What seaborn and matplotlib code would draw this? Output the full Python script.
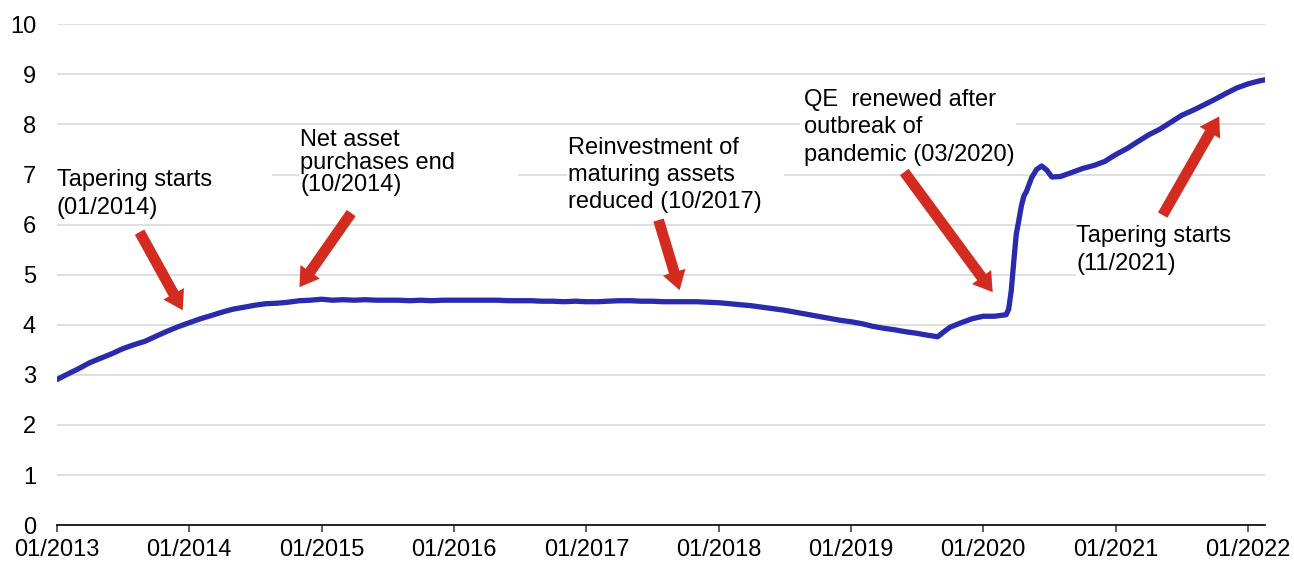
import pandas as pd
import numpy as np
import matplotlib
matplotlib.use("Agg")
import matplotlib.pyplot as plt
import matplotlib.dates as mdates
from matplotlib.patches import FancyArrowPatch, Rectangle
import seaborn as sns

# ---- data (USD trillions) ----
dates = [
    "2013-01-02", "2013-02-01", "2013-03-01", "2013-04-01", "2013-05-01", "2013-06-01",
    "2013-07-01", "2013-08-01", "2013-09-01", "2013-10-01", "2013-11-01", "2013-12-01",
    "2014-01-01", "2014-02-01", "2014-03-01", "2014-04-01", "2014-05-01", "2014-06-01",
    "2014-07-01", "2014-08-01", "2014-09-01", "2014-10-01", "2014-11-01", "2014-12-01",
    "2015-01-01", "2015-02-01", "2015-03-01", "2015-04-01", "2015-05-01", "2015-06-01",
    "2015-07-01", "2015-08-01", "2015-09-01", "2015-10-01", "2015-11-01", "2015-12-01",
    "2016-01-01", "2016-02-01", "2016-03-01", "2016-04-01", "2016-05-01", "2016-06-01",
    "2016-07-01", "2016-08-01", "2016-09-01", "2016-10-01", "2016-11-01", "2016-12-01",
    "2017-01-01", "2017-02-01", "2017-03-01", "2017-04-01", "2017-05-01", "2017-06-01",
    "2017-07-01", "2017-08-01", "2017-09-01", "2017-10-01", "2017-11-01", "2017-12-01",
    "2018-01-01", "2018-02-01", "2018-03-01", "2018-04-01", "2018-05-01", "2018-06-01",
    "2018-07-01", "2018-08-01", "2018-09-01", "2018-10-01", "2018-11-01", "2018-12-01",
    "2019-01-01", "2019-02-01", "2019-03-01", "2019-04-01", "2019-05-01", "2019-06-01",
    "2019-07-01", "2019-08-01", "2019-08-28", "2019-09-18", "2019-10-01", "2019-11-01",
    "2019-12-01", "2020-01-01", "2020-02-01", "2020-03-04", "2020-03-11", "2020-03-18",
    "2020-03-25", "2020-04-01", "2020-04-08", "2020-04-15", "2020-04-22", "2020-04-29",
    "2020-05-13", "2020-05-27", "2020-06-10", "2020-06-24", "2020-07-08", "2020-08-01",
    "2020-09-01", "2020-10-01", "2020-11-01", "2020-12-01", "2021-01-01", "2021-02-01",
    "2021-03-01", "2021-04-01", "2021-05-01", "2021-06-01", "2021-07-01", "2021-08-01",
    "2021-09-01", "2021-10-01", "2021-11-01", "2021-12-01", "2022-01-01", "2022-02-01",
    "2022-02-16",
]
assets = [
    2.91, 3.02, 3.12, 3.24, 3.33, 3.42, 3.52, 3.60, 3.67, 3.77, 3.87, 3.96,
    4.04, 4.12, 4.18, 4.25, 4.31, 4.35, 4.39, 4.42, 4.43, 4.45, 4.48, 4.49,
    4.51, 4.49, 4.50, 4.49, 4.50, 4.49, 4.49, 4.49, 4.48, 4.49, 4.48, 4.49,
    4.49, 4.49, 4.49, 4.49, 4.49, 4.48, 4.48, 4.48, 4.47, 4.47, 4.46, 4.47,
    4.46, 4.46, 4.47, 4.48, 4.48, 4.47, 4.47, 4.46, 4.46, 4.46, 4.46, 4.45,
    4.44, 4.42, 4.40, 4.38, 4.35, 4.32, 4.29, 4.25, 4.21, 4.17, 4.13, 4.09,
    4.06, 4.02, 3.97, 3.93, 3.90, 3.86, 3.83, 3.79, 3.76, 3.88, 3.95, 4.04,
    4.12, 4.17, 4.17, 4.20, 4.31, 4.67, 5.25, 5.81, 6.08, 6.37, 6.57, 6.66,
    6.93, 7.10, 7.17, 7.09, 6.95, 6.96, 7.04, 7.12, 7.18, 7.26, 7.40, 7.52,
    7.65, 7.79, 7.90, 8.04, 8.18, 8.28, 8.39, 8.50, 8.62, 8.73, 8.81, 8.87,
    8.89,
]
ytick_values = list(range(0, 11))
annotations = [
    "Tapering starts\n(01/2014)",
    "Net asset\npurchases end\n(10/2014)",
    "Reinvestment of\nmaturing assets\nreduced (10/2017)",
    "QE  renewed after\noutbreak of\npandemic (03/2020)",
    "Tapering starts\n(11/2021)",
]

df = pd.DataFrame({"date": pd.to_datetime(dates), "assets": assets})

sns.set_theme(style="white")
plt.rcParams["font.family"] = ["Liberation Sans", "DejaVu Sans"]

fig = plt.figure(figsize=(12.94, 5.64), dpi=100)
ax = fig.add_axes([0.044, 0.069, 0.9335, 0.888])

LINE = "#2A2AAD"
RED = "#D42B20"
FS = 17

sns.lineplot(data=df, x="date", y="assets", ax=ax, color=LINE, lw=3.8,
             zorder=3, legend=False)

x0 = pd.Timestamp("2013-01-01")
x1 = pd.Timestamp("2022-02-16")
ax.set_xlim(x0, x1)
ax.set_ylim(0, 10)
ax.set_yticks(ytick_values)
ax.set_xlabel("")
ax.set_ylabel("")

ax.xaxis.set_major_locator(mdates.YearLocator())
ax.xaxis.set_major_formatter(mdates.DateFormatter("%m/%Y"))

for s in ["top", "right", "left"]:
    ax.spines[s].set_visible(False)
ax.spines["bottom"].set_color("#000000")
ax.spines["bottom"].set_linewidth(1.2)

ax.grid(axis="y", color="#D9D9D9", lw=1.2, zorder=0)
ax.grid(axis="x", visible=False)
ax.set_axisbelow(True)
ax.tick_params(axis="y", length=0, pad=15, labelsize=FS, labelcolor="black")
ax.tick_params(axis="x", direction="out", length=5, width=1.2, color="#444444",
               pad=5, labelsize=FS, labelcolor="black", bottom=True)

# white text boxes that mask the gridlines
def D(s):
    return mdates.date2num(pd.Timestamp(s))

masks = [
    ("2013-01-01", "2014-08-18", 6.4, 7.3),
    ("2014-11-01", "2016-06-25", 6.6, 7.8),
    ("2016-11-08", "2018-07-01", 6.3, 7.6),
    ("2018-08-13", "2020-03-31", 7.2, 8.6),
    ("2020-09-12", "2022-02-16", 4.6, 6.3),
]
for a, b, ya, yb in masks:
    ax.add_patch(Rectangle((D(a), ya), D(b) - D(a), yb - ya, facecolor="white",
                           edgecolor="none", zorder=1))

# annotation texts
text_pos = [
    ("2013-01-01", 7.10, 1.30),
    ("2014-11-03", 7.91, 1.04),
    ("2016-11-10", 7.75, 1.30),
    ("2018-08-25", 8.71, 1.32),
    ("2020-09-14", 6.00, 1.36),
]
for txt, (xd, yv, ls) in zip(annotations, text_pos):
    ax.text(D(xd), yv, txt, fontsize=FS, ha="left", va="top", color="black",
            linespacing=ls, zorder=5)

# arrows (tail -> head)
arrows = [
    (("2013-08-17", 5.85), ("2013-12-14", 4.29)),
    (("2015-03-24", 6.23), ("2014-11-01", 4.75)),
    (("2017-07-19", 6.09), ("2017-09-15", 4.69)),
    (("2019-05-28", 7.05), ("2020-01-27", 4.65)),
    (("2021-05-10", 6.19), ("2021-10-13", 8.16)),
]
for (ta, ya), (hb, yb) in arrows:
    arr = FancyArrowPatch((D(ta), ya), (D(hb), yb),
                          arrowstyle="simple,head_width=1.7,head_length=1.35,tail_width=0.78",
                          mutation_scale=10, color=RED, lw=0, shrinkA=0, shrinkB=0,
                          zorder=4)
    ax.add_patch(arr)

fig.savefig("out.png", dpi=100)
